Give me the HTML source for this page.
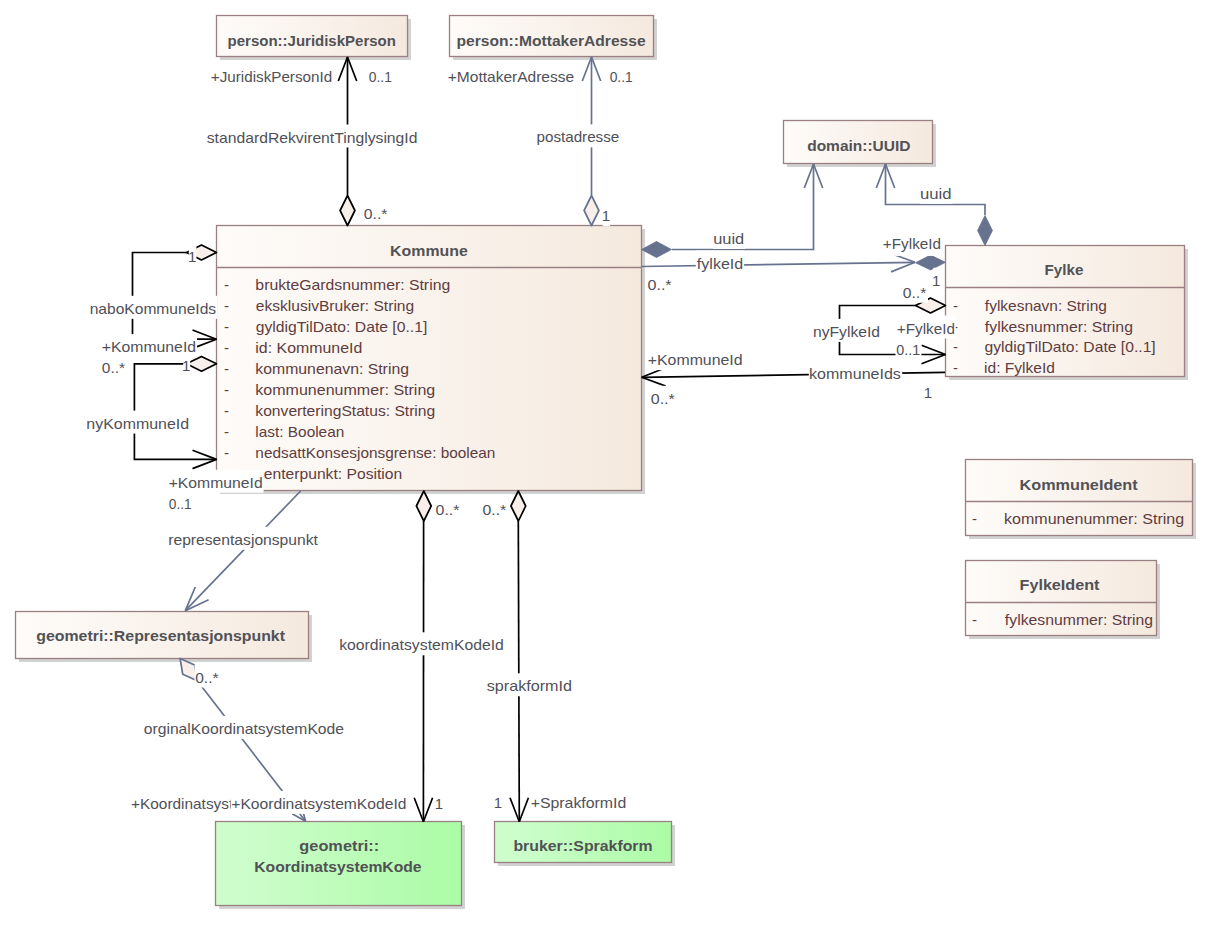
<!DOCTYPE html>
<html><head><meta charset="utf-8"><style>
html,body{margin:0;padding:0;background:#fff;width:1208px;height:951px;overflow:hidden}
svg{display:block;font-family:"Liberation Sans",sans-serif}
</style></head><body>
<svg width="1208" height="951" viewBox="0 0 1208 951">
<defs>
<linearGradient id="cream" x1="0" y1="0" x2="1" y2="0"><stop offset="0" stop-color="#fefbf9"/><stop offset="0.2" stop-color="#fcf8f4"/><stop offset="1" stop-color="#f5e9de"/></linearGradient>
<linearGradient id="green" x1="0" y1="0" x2="1" y2="0"><stop offset="0" stop-color="#cefdcd"/><stop offset="0.2" stop-color="#cafdc8"/><stop offset="1" stop-color="#abfca5"/></linearGradient>
</defs>
<rect width="1208" height="951" fill="#fff"/>
<rect x="220" y="19" width="191" height="41" fill="#d2d2d2"/>
<rect x="216.5" y="15.5" width="191" height="41" fill="url(#cream)" stroke="#9a8082" stroke-width="1.3"/>
<text x="227.60" y="45.7" textLength="168.28" lengthAdjust="spacingAndGlyphs" font-weight="bold" font-size="15" fill="#525256">person::JuridiskPerson</text>
<rect x="453" y="19" width="204" height="41" fill="#d2d2d2"/>
<rect x="449.5" y="15.5" width="204" height="41" fill="url(#cream)" stroke="#9a8082" stroke-width="1.3"/>
<text x="456.56" y="45.7" textLength="189.08" lengthAdjust="spacingAndGlyphs" font-weight="bold" font-size="15" fill="#525256">person::MottakerAdresse</text>
<rect x="787" y="124" width="149" height="43" fill="#d2d2d2"/>
<rect x="783.5" y="120.5" width="149" height="43" fill="url(#cream)" stroke="#9a8082" stroke-width="1.3"/>
<text x="807.18" y="150.5" textLength="103.33" lengthAdjust="spacingAndGlyphs" font-weight="bold" font-size="15" fill="#525256">domain::UUID</text>
<rect x="220" y="229" width="425" height="265" fill="#d2d2d2"/>
<rect x="216.5" y="225.5" width="425" height="265" fill="url(#cream)" stroke="#9a8082" stroke-width="1.3"/>
<line x1="216" y1="267.5" x2="641" y2="267.5" stroke="#9a8082" stroke-width="1.3"/>
<text x="390.14" y="256" textLength="77.73" lengthAdjust="spacingAndGlyphs" font-weight="bold" font-size="15" fill="#525256">Kommune</text>
<text x="224.10" y="290" textLength="5.00" lengthAdjust="spacingAndGlyphs" font-weight="normal" font-size="15" fill="#5e3c40">-</text>
<text x="255.35" y="290" textLength="194.87" lengthAdjust="spacingAndGlyphs" font-weight="normal" font-size="15" fill="#5e3c40">brukteGardsnummer: String</text>
<text x="224.10" y="311" textLength="5.00" lengthAdjust="spacingAndGlyphs" font-weight="normal" font-size="15" fill="#5e3c40">-</text>
<text x="255.78" y="311" textLength="158.41" lengthAdjust="spacingAndGlyphs" font-weight="normal" font-size="15" fill="#5e3c40">eksklusivBruker: String</text>
<text x="224.10" y="332" textLength="5.00" lengthAdjust="spacingAndGlyphs" font-weight="normal" font-size="15" fill="#5e3c40">-</text>
<text x="255.77" y="332" textLength="171.57" lengthAdjust="spacingAndGlyphs" font-weight="normal" font-size="15" fill="#5e3c40">gyldigTilDato: Date [0..1]</text>
<text x="224.10" y="353" textLength="5.00" lengthAdjust="spacingAndGlyphs" font-weight="normal" font-size="15" fill="#5e3c40">-</text>
<text x="255.34" y="353" textLength="106.90" lengthAdjust="spacingAndGlyphs" font-weight="normal" font-size="15" fill="#5e3c40">id: KommuneId</text>
<text x="224.10" y="374" textLength="5.00" lengthAdjust="spacingAndGlyphs" font-weight="normal" font-size="15" fill="#5e3c40">-</text>
<text x="255.35" y="374" textLength="153.61" lengthAdjust="spacingAndGlyphs" font-weight="normal" font-size="15" fill="#5e3c40">kommunenavn: String</text>
<text x="224.10" y="395" textLength="5.00" lengthAdjust="spacingAndGlyphs" font-weight="normal" font-size="15" fill="#5e3c40">-</text>
<text x="255.33" y="395" textLength="179.93" lengthAdjust="spacingAndGlyphs" font-weight="normal" font-size="15" fill="#5e3c40">kommunenummer: String</text>
<text x="224.10" y="416" textLength="5.00" lengthAdjust="spacingAndGlyphs" font-weight="normal" font-size="15" fill="#5e3c40">-</text>
<text x="255.36" y="416" textLength="179.87" lengthAdjust="spacingAndGlyphs" font-weight="normal" font-size="15" fill="#5e3c40">konverteringStatus: String</text>
<text x="224.10" y="437" textLength="5.00" lengthAdjust="spacingAndGlyphs" font-weight="normal" font-size="15" fill="#5e3c40">-</text>
<text x="255.38" y="437" textLength="88.88" lengthAdjust="spacingAndGlyphs" font-weight="normal" font-size="15" fill="#5e3c40">last: Boolean</text>
<text x="224.10" y="458" textLength="5.00" lengthAdjust="spacingAndGlyphs" font-weight="normal" font-size="15" fill="#5e3c40">-</text>
<text x="255.38" y="458" textLength="239.99" lengthAdjust="spacingAndGlyphs" font-weight="normal" font-size="15" fill="#5e3c40">nedsattKonsesjonsgrense: boolean</text>
<text x="224.10" y="479" textLength="5.00" lengthAdjust="spacingAndGlyphs" font-weight="normal" font-size="15" fill="#5e3c40">-</text>
<text x="255.98" y="479" textLength="146.25" lengthAdjust="spacingAndGlyphs" font-weight="normal" font-size="15" fill="#5e3c40">senterpunkt: Position</text>
<rect x="949" y="249" width="239" height="131" fill="#d2d2d2"/>
<rect x="945.5" y="245.5" width="239" height="131" fill="url(#cream)" stroke="#9a8082" stroke-width="1.3"/>
<line x1="945" y1="287.5" x2="1184" y2="287.5" stroke="#9a8082" stroke-width="1.3"/>
<text x="1044.59" y="274.8" textLength="38.77" lengthAdjust="spacingAndGlyphs" font-weight="bold" font-size="15" fill="#525256">Fylke</text>
<text x="953.10" y="310.6" textLength="5.00" lengthAdjust="spacingAndGlyphs" font-weight="normal" font-size="15" fill="#5e3c40">-</text>
<text x="984.89" y="310.6" textLength="122.03" lengthAdjust="spacingAndGlyphs" font-weight="normal" font-size="15" fill="#5e3c40">fylkesnavn: String</text>
<text x="953.10" y="331.5" textLength="5.00" lengthAdjust="spacingAndGlyphs" font-weight="normal" font-size="15" fill="#5e3c40">-</text>
<text x="984.89" y="331.5" textLength="148.03" lengthAdjust="spacingAndGlyphs" font-weight="normal" font-size="15" fill="#5e3c40">fylkesnummer: String</text>
<text x="953.10" y="352.40000000000003" textLength="5.00" lengthAdjust="spacingAndGlyphs" font-weight="normal" font-size="15" fill="#5e3c40">-</text>
<text x="984.47" y="352.40000000000003" textLength="171.27" lengthAdjust="spacingAndGlyphs" font-weight="normal" font-size="15" fill="#5e3c40">gyldigTilDato: Date [0..1]</text>
<text x="953.10" y="373.3" textLength="5.00" lengthAdjust="spacingAndGlyphs" font-weight="normal" font-size="15" fill="#5e3c40">-</text>
<text x="984.06" y="373.3" textLength="70.83" lengthAdjust="spacingAndGlyphs" font-weight="normal" font-size="15" fill="#5e3c40">id: FylkeId</text>
<rect x="969" y="463" width="227" height="76" fill="#d2d2d2"/>
<rect x="965.5" y="459.5" width="227" height="76" fill="url(#cream)" stroke="#9a8082" stroke-width="1.3"/>
<line x1="965" y1="501.5" x2="1192" y2="501.5" stroke="#9a8082" stroke-width="1.3"/>
<text x="1019.52" y="489.8" textLength="118.17" lengthAdjust="spacingAndGlyphs" font-weight="bold" font-size="15" fill="#525256">KommuneIdent</text>
<text x="972.10" y="524" textLength="5.00" lengthAdjust="spacingAndGlyphs" font-weight="normal" font-size="15" fill="#5e3c40">-</text>
<text x="1004.03" y="524" textLength="180.13" lengthAdjust="spacingAndGlyphs" font-weight="normal" font-size="15" fill="#5e3c40">kommunenummer: String</text>
<rect x="969" y="564" width="191" height="75" fill="#d2d2d2"/>
<rect x="965.5" y="560.5" width="191" height="75" fill="url(#cream)" stroke="#9a8082" stroke-width="1.3"/>
<line x1="965" y1="602.5" x2="1156" y2="602.5" stroke="#9a8082" stroke-width="1.3"/>
<text x="1019.52" y="590" textLength="79.98" lengthAdjust="spacingAndGlyphs" font-weight="bold" font-size="15" fill="#525256">FylkeIdent</text>
<text x="972.10" y="625" textLength="5.00" lengthAdjust="spacingAndGlyphs" font-weight="normal" font-size="15" fill="#5e3c40">-</text>
<text x="1004.89" y="625" textLength="148.14" lengthAdjust="spacingAndGlyphs" font-weight="normal" font-size="15" fill="#5e3c40">fylkesnummer: String</text>
<rect x="19" y="615" width="293" height="47" fill="#d2d2d2"/>
<rect x="15.5" y="611.5" width="293" height="47" fill="url(#cream)" stroke="#9a8082" stroke-width="1.3"/>
<text x="36.27" y="641" textLength="248.69" lengthAdjust="spacingAndGlyphs" font-weight="bold" font-size="15" fill="#525256">geometri::Representasjonspunkt</text>
<rect x="219" y="825" width="246" height="84" fill="#d2d2d2"/>
<rect x="215.5" y="821.5" width="246" height="84" fill="url(#green)" stroke="#9a8082" stroke-width="1.3"/>
<text x="299.35" y="850.7" textLength="79.82" lengthAdjust="spacingAndGlyphs" font-weight="bold" font-size="15" fill="#525256">geometri::</text>
<text x="254.25" y="872" textLength="167.30" lengthAdjust="spacingAndGlyphs" font-weight="bold" font-size="15" fill="#525256">KoordinatsystemKode</text>
<rect x="498" y="825" width="177" height="41" fill="#d2d2d2"/>
<rect x="494.5" y="821.5" width="177" height="41" fill="url(#green)" stroke="#9a8082" stroke-width="1.3"/>
<text x="513.44" y="851.3" textLength="139.21" lengthAdjust="spacingAndGlyphs" font-weight="bold" font-size="15" fill="#525256">bruker::Sprakform</text>
<path d="M347.5,57 L347.5,195" fill="none" stroke="#000" stroke-width="1.7" stroke-linejoin="miter"/>
<path d="M338.3,81.0 L347.5,57 L356.7,81.0" fill="none" stroke="#000" stroke-width="1.7" stroke-linejoin="bevel"/>
<path d="M347.5,225.5 L354.9,210.5 L347.5,195.5 L340.1,210.5 Z" fill="#f8eeea" stroke="#000" stroke-width="1.7" stroke-linejoin="round"/>
<path d="M591.5,57 L591.5,195" fill="none" stroke="#66728e" stroke-width="1.7" stroke-linejoin="miter"/>
<path d="M582.3,81.0 L591.5,57 L600.7,81.0" fill="none" stroke="#66728e" stroke-width="1.7" stroke-linejoin="bevel"/>
<path d="M591.5,225.5 L598.9,210.5 L591.5,195.5 L584.1,210.5 Z" fill="#f8eeea" stroke="#66728e" stroke-width="1.7" stroke-linejoin="round"/>
<path d="M672,249.5 L813.5,249.5 L813.5,164" fill="none" stroke="#66728e" stroke-width="1.7" stroke-linejoin="miter"/>
<path d="M804.3,188.0 L813.5,164 L822.7,188.0" fill="none" stroke="#66728e" stroke-width="1.7" stroke-linejoin="bevel"/>
<path d="M641.5,249.5 L656.5,257.5 L671.5,249.5 L656.5,241.5 Z" fill="#66728e" stroke="#66728e" stroke-width="0.8" stroke-linejoin="round"/>
<path d="M985,215 L985,204.5 L885.5,204.5 L885.5,164" fill="none" stroke="#66728e" stroke-width="1.7" stroke-linejoin="miter"/>
<path d="M876.3,188.0 L885.5,164 L894.7,188.0" fill="none" stroke="#66728e" stroke-width="1.7" stroke-linejoin="bevel"/>
<path d="M985,245.5 L992.4,230.5 L985.0,215.5 L977.6,230.5 Z" fill="#66728e" stroke="#66728e" stroke-width="0.8" stroke-linejoin="round"/>
<path d="M641.5,266.5 L915,262.3" fill="none" stroke="#66728e" stroke-width="1.7" stroke-linejoin="miter"/>
<path d="M890.9,253.5 L915,262.3 L891.1,271.9" fill="none" stroke="#66728e" stroke-width="1.7" stroke-linejoin="bevel"/>
<path d="M945.5,262.3 L930.4,255.1 L915.5,262.8 L930.6,269.9 Z" fill="#66728e" stroke="#66728e" stroke-width="0.8" stroke-linejoin="round"/>
<path d="M945,372.4 L641.7,377.3" fill="none" stroke="#000" stroke-width="1.7" stroke-linejoin="miter"/>
<path d="M665.8,386.1 L641.7,377.3 L665.5,367.7" fill="none" stroke="#000" stroke-width="1.7" stroke-linejoin="bevel"/>
<path d="M915.5,305.5 L839.5,305.5 L839.5,354.5 L945.5,354.5" fill="none" stroke="#000" stroke-width="1.7" stroke-linejoin="miter"/>
<path d="M945.5,305.5 L930.5,298.1 L915.5,305.5 L930.5,312.9 Z" fill="#f8eeea" stroke="#000" stroke-width="1.7" stroke-linejoin="round"/>
<path d="M921.5,345.3 L945.5,354.5 L921.5,363.7" fill="none" stroke="#000" stroke-width="1.7" stroke-linejoin="bevel"/>
<path d="M186.5,252.5 L132.5,252.5 L132.5,339.2 L216.5,339.2" fill="none" stroke="#000" stroke-width="1.7" stroke-linejoin="miter"/>
<path d="M216.5,252.5 L201.5,245.1 L186.5,252.5 L201.5,259.9 Z" fill="#f8eeea" stroke="#000" stroke-width="1.7" stroke-linejoin="round"/>
<path d="M192.5,330.0 L216.5,339.2 L192.5,348.4" fill="none" stroke="#000" stroke-width="1.7" stroke-linejoin="bevel"/>
<path d="M186.5,363.8 L134.4,363.8 L134.4,459.4 L216.5,459.4" fill="none" stroke="#000" stroke-width="1.7" stroke-linejoin="miter"/>
<path d="M216.5,363.8 L201.5,356.4 L186.5,363.8 L201.5,371.2 Z" fill="#f8eeea" stroke="#000" stroke-width="1.7" stroke-linejoin="round"/>
<path d="M192.5,450.2 L216.5,459.4 L192.5,468.6" fill="none" stroke="#000" stroke-width="1.7" stroke-linejoin="bevel"/>
<path d="M300.6,491 L185.3,610.7" fill="none" stroke="#66728e" stroke-width="1.7" stroke-linejoin="miter"/>
<path d="M208.6,599.8 L185.3,610.7 L195.3,587.0" fill="none" stroke="#66728e" stroke-width="1.7" stroke-linejoin="bevel"/>
<path d="M423.6,521 L423.4,821.7" fill="none" stroke="#000" stroke-width="1.7" stroke-linejoin="miter"/>
<path d="M423.8,491 L416.4,506.0 L423.8,521.0 L431.2,506.0 Z" fill="#f8eeea" stroke="#000" stroke-width="1.7" stroke-linejoin="round"/>
<path d="M432.6,797.7 L423.4,821.7 L414.2,797.7" fill="none" stroke="#000" stroke-width="1.7" stroke-linejoin="bevel"/>
<path d="M518.3,521 L519.3,821.7" fill="none" stroke="#000" stroke-width="1.7" stroke-linejoin="miter"/>
<path d="M518.3,491 L510.9,506.0 L518.4,521.0 L525.7,506.0 Z" fill="#f8eeea" stroke="#000" stroke-width="1.7" stroke-linejoin="round"/>
<path d="M528.4,797.7 L519.3,821.7 L510.0,797.7" fill="none" stroke="#000" stroke-width="1.7" stroke-linejoin="bevel"/>
<path d="M180.1,658.5 L305.5,821.2" fill="none" stroke="#66728e" stroke-width="1.7" stroke-linejoin="miter"/>
<path d="M180.1,658.5 L182.7,674.2 L197.2,680.7 L194.6,665.0 Z" fill="#f8eeea" stroke="#66728e" stroke-width="1.7" stroke-linejoin="round"/>
<path d="M301.7,806.4 L305.5,821.2 L292.2,813.8" fill="none" stroke="#66728e" stroke-width="1.7" stroke-linejoin="bevel"/>
<rect x="210.3" y="63.8" width="122.80000000000001" height="23.0" fill="#fff"/>
<text x="210.89" y="81.8" textLength="121.26" lengthAdjust="spacingAndGlyphs" font-weight="normal" font-size="15" fill="#505058">+JuridiskPersonId</text>
<rect x="368.0" y="63.5" width="25.100000000000023" height="23.0" fill="#fff"/>
<text x="368.75" y="81.5" textLength="23.12" lengthAdjust="spacingAndGlyphs" font-weight="normal" font-size="15" fill="#505058">0..1</text>
<rect x="205.9" y="124.5" width="212.4" height="23.0" fill="#fff"/>
<text x="206.78" y="142.5" textLength="210.68" lengthAdjust="spacingAndGlyphs" font-weight="normal" font-size="15" fill="#505058">standardRekvirentTinglysingId</text>
<rect x="363.1" y="200.5" width="26.0" height="23.0" fill="#fff"/>
<text x="363.77" y="218.5" textLength="23.66" lengthAdjust="spacingAndGlyphs" font-weight="normal" font-size="15" fill="#505058">0..*</text>
<rect x="447.2" y="64.0" width="128.2" height="23.0" fill="#fff"/>
<text x="447.78" y="82.0" textLength="126.39" lengthAdjust="spacingAndGlyphs" font-weight="normal" font-size="15" fill="#505058">+MottakerAdresse</text>
<rect x="608.9" y="63.5" width="25.100000000000023" height="23.0" fill="#fff"/>
<text x="609.65" y="81.5" textLength="23.12" lengthAdjust="spacingAndGlyphs" font-weight="normal" font-size="15" fill="#505058">0..1</text>
<rect x="536.3" y="124.4" width="84.20000000000005" height="23.0" fill="#fff"/>
<text x="536.59" y="142.4" textLength="82.64" lengthAdjust="spacingAndGlyphs" font-weight="normal" font-size="15" fill="#505058">postadresse</text>
<rect x="602.7" y="203.0" width="7.399999999999977" height="23.0" fill="#fff"/>
<text x="601.75" y="221.0" textLength="8.34" lengthAdjust="spacingAndGlyphs" font-weight="normal" font-size="15" fill="#505058">1</text>
<rect x="919.8" y="180.9" width="32.60000000000002" height="23.0" fill="#fff"/>
<text x="919.99" y="198.9" textLength="31.58" lengthAdjust="spacingAndGlyphs" font-weight="normal" font-size="15" fill="#505058">uuid</text>
<rect x="713.0" y="226.0" width="32.10000000000002" height="23.0" fill="#fff"/>
<text x="713.21" y="244.0" textLength="31.04" lengthAdjust="spacingAndGlyphs" font-weight="normal" font-size="15" fill="#505058">uuid</text>
<rect x="882.3" y="231.4" width="59.60000000000002" height="24.5" fill="#fff"/>
<text x="882.89" y="249.4" textLength="58.14" lengthAdjust="spacingAndGlyphs" font-weight="normal" font-size="15" fill="#505058">+FylkeId</text>
<rect x="695.8" y="250.5" width="48.30000000000007" height="23.0" fill="#fff"/>
<text x="696.89" y="268.5" textLength="46.33" lengthAdjust="spacingAndGlyphs" font-weight="normal" font-size="15" fill="#505058">fylkeId</text>
<rect x="646.8" y="271.7" width="26.5" height="23.0" fill="#fff"/>
<text x="647.46" y="289.7" textLength="24.18" lengthAdjust="spacingAndGlyphs" font-weight="normal" font-size="15" fill="#505058">0..*</text>
<rect x="933.3" y="267.8" width="6.600000000000023" height="23.0" fill="#fff"/>
<text x="931.95" y="285.8" textLength="8.34" lengthAdjust="spacingAndGlyphs" font-weight="normal" font-size="15" fill="#505058">1</text>
<rect x="902.1" y="279.8" width="25.899999999999977" height="23.0" fill="#fff"/>
<text x="902.77" y="297.8" textLength="23.55" lengthAdjust="spacingAndGlyphs" font-weight="normal" font-size="15" fill="#505058">0..*</text>
<rect x="812.7" y="318.9" width="68.29999999999995" height="23.0" fill="#fff"/>
<text x="812.95" y="336.9" textLength="67.18" lengthAdjust="spacingAndGlyphs" font-weight="normal" font-size="15" fill="#505058">nyFylkeId</text>
<rect x="896.2" y="315.5" width="59.59999999999991" height="23.0" fill="#fff"/>
<text x="896.79" y="333.5" textLength="58.14" lengthAdjust="spacingAndGlyphs" font-weight="normal" font-size="15" fill="#505058">+FylkeId</text>
<rect x="895.5" y="337.0" width="25.899999999999977" height="23.0" fill="#fff"/>
<text x="896.23" y="355.0" textLength="23.96" lengthAdjust="spacingAndGlyphs" font-weight="normal" font-size="15" fill="#505058">0..1</text>
<rect x="647.2" y="347.1" width="96.29999999999995" height="23.0" fill="#fff"/>
<text x="647.76" y="365.1" textLength="94.83" lengthAdjust="spacingAndGlyphs" font-weight="normal" font-size="15" fill="#505058">+KommuneId</text>
<rect x="808.8" y="360.5" width="93.40000000000009" height="23.0" fill="#fff"/>
<text x="809.03" y="378.5" textLength="91.88" lengthAdjust="spacingAndGlyphs" font-weight="normal" font-size="15" fill="#505058">kommuneIds</text>
<rect x="650.1" y="385.8" width="26.399999999999977" height="23.0" fill="#fff"/>
<text x="650.76" y="403.8" textLength="24.07" lengthAdjust="spacingAndGlyphs" font-weight="normal" font-size="15" fill="#505058">0..*</text>
<rect x="924.7" y="379.8" width="7.2999999999999545" height="23.0" fill="#fff"/>
<text x="923.70" y="397.8" textLength="8.34" lengthAdjust="spacingAndGlyphs" font-weight="normal" font-size="15" fill="#505058">1</text>
<rect x="188.8" y="244.2" width="7.599999999999994" height="23.0" fill="#fff"/>
<text x="187.95" y="262.2" textLength="8.34" lengthAdjust="spacingAndGlyphs" font-weight="normal" font-size="15" fill="#505058">1</text>
<rect x="89.4" y="295.8" width="128.1" height="23.0" fill="#fff"/>
<text x="89.66" y="313.8" textLength="126.50" lengthAdjust="spacingAndGlyphs" font-weight="normal" font-size="15" fill="#505058">naboKommuneIds</text>
<rect x="101.2" y="334.1" width="95.8" height="23.0" fill="#fff"/>
<text x="101.76" y="352.1" textLength="94.32" lengthAdjust="spacingAndGlyphs" font-weight="normal" font-size="15" fill="#505058">+KommuneId</text>
<rect x="101.2" y="354.9" width="25.599999999999994" height="23.0" fill="#fff"/>
<text x="101.88" y="372.9" textLength="23.24" lengthAdjust="spacingAndGlyphs" font-weight="normal" font-size="15" fill="#505058">0..*</text>
<rect x="183.2" y="353.4" width="7.0" height="23.0" fill="#fff"/>
<text x="182.05" y="371.4" textLength="8.34" lengthAdjust="spacingAndGlyphs" font-weight="normal" font-size="15" fill="#505058">1</text>
<rect x="86.1" y="410.6" width="103.80000000000001" height="23.0" fill="#fff"/>
<text x="86.34" y="428.6" textLength="102.74" lengthAdjust="spacingAndGlyphs" font-weight="normal" font-size="15" fill="#505058">nyKommuneId</text>
<rect x="168.1" y="469.7" width="95.50000000000003" height="23.0" fill="#fff"/>
<text x="168.67" y="487.7" textLength="94.01" lengthAdjust="spacingAndGlyphs" font-weight="normal" font-size="15" fill="#505058">+KommuneId</text>
<rect x="168.1" y="490.9" width="24.700000000000017" height="23.0" fill="#fff"/>
<text x="168.86" y="508.9" textLength="22.70" lengthAdjust="spacingAndGlyphs" font-weight="normal" font-size="15" fill="#505058">0..1</text>
<rect x="434.9" y="496.9" width="26.30000000000001" height="23.0" fill="#fff"/>
<text x="435.56" y="514.9" textLength="23.97" lengthAdjust="spacingAndGlyphs" font-weight="normal" font-size="15" fill="#505058">0..*</text>
<rect x="481.8" y="496.9" width="26.099999999999966" height="23.0" fill="#fff"/>
<text x="482.47" y="514.9" textLength="23.76" lengthAdjust="spacingAndGlyphs" font-weight="normal" font-size="15" fill="#505058">0..*</text>
<rect x="168.0" y="526.8" width="151.7" height="23.0" fill="#fff"/>
<text x="168.26" y="544.8" textLength="149.67" lengthAdjust="spacingAndGlyphs" font-weight="normal" font-size="15" fill="#505058">representasjonspunkt</text>
<rect x="194.5" y="664.5" width="25.69999999999999" height="23.0" fill="#fff"/>
<text x="195.18" y="682.5" textLength="23.35" lengthAdjust="spacingAndGlyphs" font-weight="normal" font-size="15" fill="#505058">0..*</text>
<rect x="143.1" y="715.9" width="202.1" height="23.0" fill="#fff"/>
<text x="143.77" y="733.9" textLength="200.23" lengthAdjust="spacingAndGlyphs" font-weight="normal" font-size="15" fill="#505058">orginalKoordinatsystemKode</text>
<rect x="338.9" y="632.3" width="165.90000000000003" height="23.0" fill="#fff"/>
<text x="339.15" y="650.3" textLength="164.75" lengthAdjust="spacingAndGlyphs" font-weight="normal" font-size="15" fill="#505058">koordinatsystemKodeId</text>
<rect x="485.9" y="673.3" width="87.0" height="23.0" fill="#fff"/>
<text x="486.77" y="691.3" textLength="85.30" lengthAdjust="spacingAndGlyphs" font-weight="normal" font-size="15" fill="#505058">sprakformId</text>
<rect x="130.5" y="790.7" width="104.5" height="23.0" fill="#fff"/>
<text x="131.08" y="808.7" textLength="102.16" lengthAdjust="spacingAndGlyphs" font-weight="normal" font-size="15" fill="#505058">+Koordinatsyst</text>
<rect x="230.7" y="790.9" width="176.60000000000002" height="23.0" fill="#fff"/>
<text x="231.27" y="808.9" textLength="175.19" lengthAdjust="spacingAndGlyphs" font-weight="normal" font-size="15" fill="#505058">+KoordinatsystemKodeId</text>
<rect x="436.1" y="790.5" width="6.399999999999977" height="23.0" fill="#fff"/>
<text x="434.65" y="808.5" textLength="8.34" lengthAdjust="spacingAndGlyphs" font-weight="normal" font-size="15" fill="#505058">1</text>
<rect x="494.8" y="790.0" width="7.099999999999966" height="23.0" fill="#fff"/>
<text x="493.70" y="808.0" textLength="8.34" lengthAdjust="spacingAndGlyphs" font-weight="normal" font-size="15" fill="#505058">1</text>
<rect x="530.1" y="789.8" width="97.10000000000002" height="23.0" fill="#fff"/>
<text x="530.66" y="807.8" textLength="95.65" lengthAdjust="spacingAndGlyphs" font-weight="normal" font-size="15" fill="#505058">+SprakformId</text>
</svg>
</body></html>
